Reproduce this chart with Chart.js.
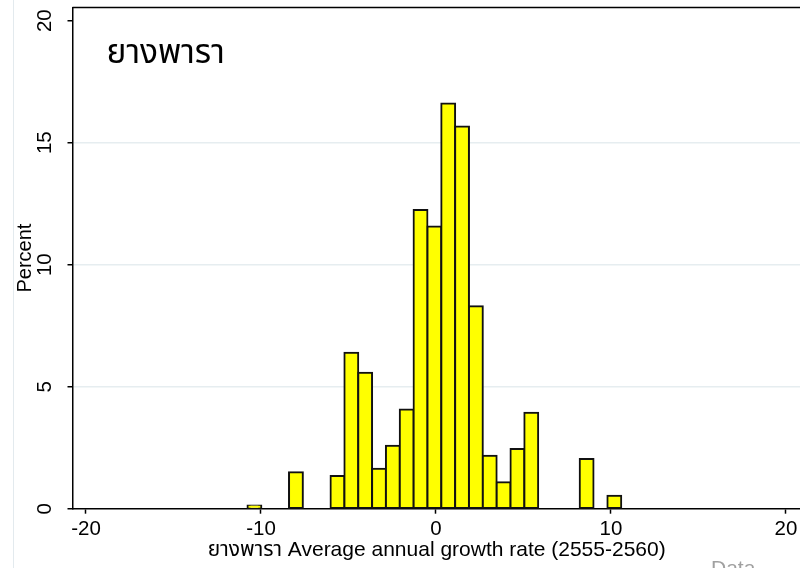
<!DOCTYPE html>
<html>
<head>
<meta charset="utf-8">
<script src="https://cdn.jsdelivr.net/npm/chart.js@4"></script>
<style>
  html, body { margin: 0; padding: 0; overflow: hidden; background: #fff; width: 800px; height: 568px; }
  #wrap { position: relative; width: 840px; height: 568px; }
</style>
</head>
<body>
<div id="wrap"><canvas id="c" width="840" height="568"></canvas></div>
<script>
// Histogram bins: first left edge and width (growth-rate units)
const binStart = -10.77;
const binWidth = 0.791;
// Percent of observations in each bin (null = empty bin)
const percent = [0.13, null, null, 1.49, null, null, 1.34, 6.39, 5.57, 1.64,
                 2.58, 4.07, 12.24, 11.57, 16.61, 15.66, 8.30, 2.17, 1.08, 2.45,
                 3.93, null, null, null, 2.04, null, 0.53];
const xTicks = [-20, -10, 0, 10, 20];
const yTicks = [0, 5, 10, 15, 20];
const panelLabel = 'ยางพารา';
const xTitle = 'ยางพารา Average annual growth rate (2555-2560)';
const yTitle = 'Percent';
const noteText = 'Data';

const FONT = '"Liberation Sans", Arial, "Noto Sans Thai", sans-serif';

const points = [];
percent.forEach((v, i) => {
  if (v !== null) points.push({ x: binStart + (i + 0.5) * binWidth, y: v });
});

const decor = {
  id: 'decor',
  beforeDraw(chart) {
    const { ctx } = chart;
    ctx.save();
    ctx.strokeStyle = '#e3eaee';
    ctx.lineWidth = 1;
    ctx.beginPath();
    ctx.moveTo(13.5, 0);
    ctx.lineTo(13.5, chart.height);
    ctx.stroke();
    ctx.restore();
  },
  afterDraw(chart) {
    const { ctx, chartArea: a } = chart;
    ctx.save();
    // plot frame, top edge
    ctx.strokeStyle = '#000';
    ctx.lineWidth = 1.5;
    ctx.beginPath();
    ctx.moveTo(a.left, a.top);
    ctx.lineTo(a.right, a.top);
    ctx.stroke();
    // panel label
    ctx.fillStyle = '#000';
    ctx.textBaseline = 'alphabetic';
    ctx.textAlign = 'left';
    ctx.font = '33.5px ' + FONT;
    ctx.fillText(panelLabel, a.left + 34, a.top + 55.5);
    // source note
    ctx.fillStyle = '#a0a0a0';
    ctx.font = '21px ' + FONT;
    ctx.fillText(noteText, 711, 574.5);
    ctx.restore();
  }
};

new Chart(document.getElementById('c'), {
  type: 'bar',
  data: {
    datasets: [{
      data: points,
      backgroundColor: '#ffff00',
      borderColor: '#111',
      borderWidth: 2,
      borderSkipped: false,
      inflateAmount: 1,
      barPercentage: 1,
      categoryPercentage: 1
    }]
  },
  options: {
    responsive: false,
    animation: false,
    devicePixelRatio: 1,
    layout: { padding: { left: 0, top: 7.5, right: 39, bottom: 0 } },
    plugins: { legend: { display: false }, tooltip: { enabled: false } },
    scales: {
      x: {
        type: 'linear',
        offset: false,
        min: -20.77,
        max: 20.86,
        afterBuildTicks: s => { s.ticks = xTicks.map(v => ({ value: v })); },
        afterFit: s => { s.height = 59.3; s.paddingLeft = 0; s.paddingRight = 0; },
        grid: { offset: false, drawOnChartArea: false, color: '#000', tickColor: '#000', tickLength: 5, tickWidth: 1.5 },
        border: { color: '#000', width: 1.5 },
        ticks: { color: '#000', font: { family: FONT, size: 20.5 }, padding: 3, maxRotation: 0, autoSkip: false },
        title: { display: true, text: xTitle, color: '#000', font: { family: FONT, size: 21 }, padding: { top: 0, bottom: 5.5 } }
      },
      y: {
        type: 'linear',
        min: 0,
        max: 20.54,
        afterBuildTicks: s => { s.ticks = yTicks.map(v => ({ value: v })); },
        afterFit: s => { s.width = 72.5; s.paddingTop = 0; s.paddingBottom = 0; },
        grid: {
          color: c => (c.tick && c.tick.value > yTicks[0] && c.tick.value < yTicks[yTicks.length - 1]) ? '#e6edf0' : 'rgba(0,0,0,0)',
          lineWidth: 1.5,
          tickColor: '#000', tickLength: 5, tickWidth: 1.5
        },
        border: { color: '#000', width: 1.5 },
        ticks: { color: '#000', font: { family: FONT, size: 20.5 }, minRotation: 90, maxRotation: 90, crossAlign: 'center', padding: 11, autoSkip: false },
        title: { display: true, text: yTitle, color: '#000', font: { family: FONT, size: 20 }, padding: { top: 13, bottom: 0 } }
      }
    }
  },
  plugins: [decor]
});
</script>
</body>
</html>
